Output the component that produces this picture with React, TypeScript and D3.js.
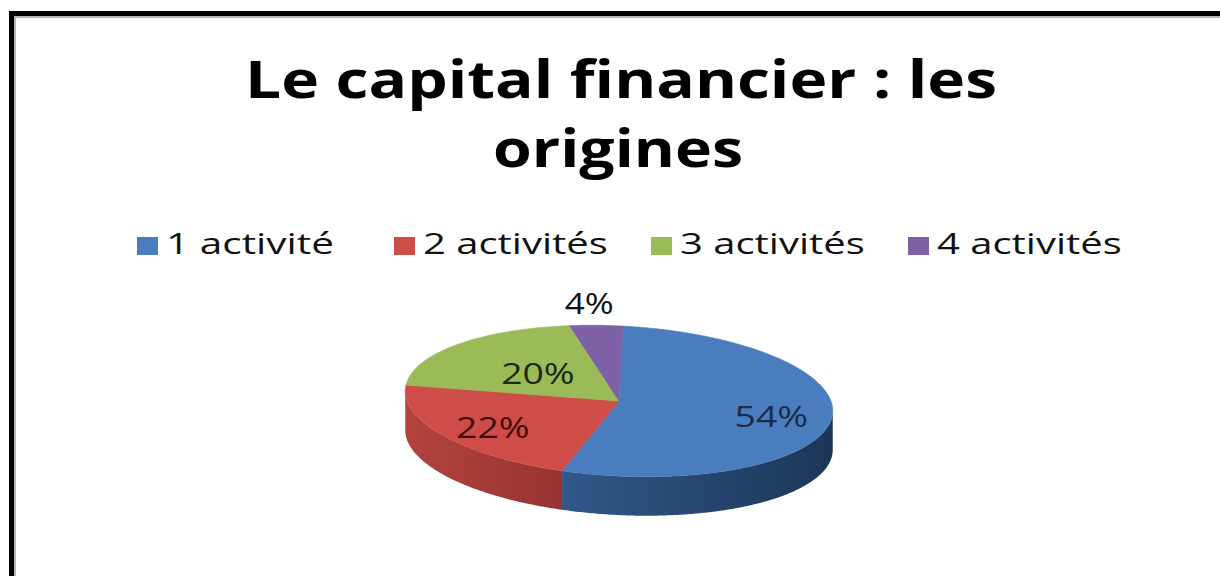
import * as d3 from "d3";

const categories = ["1 activité", "2 activités", "3 activités", "4 activités"];
const shares = [54, 22, 20, 4];
const shareLabels = ["54%", "22%", "20%", "4%"];
const titleLines = ["Le capital financier : les", "origines"];

const topColors = ["#4a7dbd", "#cf4d48", "#9bbb59", "#7e60a6"];
const sideColors = [
  ["#30588a", "#1d3557"],
  ["#b3433f", "#963431"],
  ["#7f9a48", "#637a36"],
  ["#654c86", "#4f3b6a"],
];
const labelColors = ["#1b2c4a", "#3d0e0e", "#1c2a0c", "#111111"];

const W = 1220;
const H = 576;
const CX = 619;
const CY = 401;
const RX = 214;
const RY = 75;
const DEPTH = 39;
const TILT = (3 * Math.PI) / 180;
// how far out along the slice's middle each percentage sits (1 = rim)
const LABEL_RADIUS = [0.72, 0.72, 0.5, 1.3];

const FONT = "'Open Sans', 'DejaVu Sans', sans-serif";

function project(theta: number, frac = 1, drop = 0): [number, number] {
  const dx = RX * frac * Math.sin(theta);
  const dy = -RY * frac * Math.cos(theta);
  return [
    CX + dx * Math.cos(TILT) - dy * Math.sin(TILT),
    CY + dx * Math.sin(TILT) + dy * Math.cos(TILT) + drop,
  ];
}

function rimPoints(a: number, b: number, drop = 0) {
  const n = Math.max(2, Math.ceil((b - a) / 0.01));
  return d3.range(n + 1).map((i) => project(a + ((b - a) * i) / n, 1, drop));
}

export default function App() {
  const pie = d3
    .pie<number>()
    .sort(null)
    .value((d) => d)(shares);

  const line = d3.line();

  // front half of the tilted ellipse, where the side wall shows
  const frontStart = Math.atan2(RX * Math.cos(TILT), RY * Math.sin(TILT));
  const frontEnd = frontStart + Math.PI;

  const legendX = d3
    .scaleBand<string>()
    .domain(categories)
    .range([137, 1165]);

  return (
    <svg
      width={W}
      height={H}
      style={{ position: "absolute", left: 0, top: 0, background: "#fff" }}
    >
      <defs>
        {sideColors.map((c, i) => (
          <linearGradient key={i} id={`side${i}`} x1="0" x2="1" y1="0" y2="0">
            <stop offset="0%" stopColor={c[0]} />
            <stop offset="100%" stopColor={c[1]} />
          </linearGradient>
        ))}
      </defs>

      {/* frame */}
      <rect x={9} y={11} width={5} height={H - 11} fill="#000" />
      <rect x={9} y={11} width={W - 9} height={5} fill="#000" />
      <rect x={14} y={16} width={2} height={H - 16} fill="#b5b5b5" />
      <rect x={14} y={16} width={W - 14} height={2} fill="#b5b5b5" />

      {/* title */}
      <text
        x={621}
        y={98}
        textAnchor="middle"
        fontFamily={FONT}
        fontWeight="bold"
        fontSize={52}
        textLength={752}
        lengthAdjust="spacingAndGlyphs"
        fill="#000"
      >
        {titleLines[0]}
      </text>
      <text
        x={618}
        y={167}
        textAnchor="middle"
        fontFamily={FONT}
        fontWeight="bold"
        fontSize={52}
        textLength={250}
        lengthAdjust="spacingAndGlyphs"
        fill="#000"
      >
        {titleLines[1]}
      </text>

      {/* legend */}
      {categories.map((c, i) => {
        const x = legendX(c) ?? 0;
        return (
          <g key={c}>
            <rect x={x} y={237} width={21} height={18} fill={topColors[i]} />
            <text
              x={x + 29}
              y={254}
              fontFamily={FONT}
              fontSize={29}
              textLength={c.length * 16.8}
              lengthAdjust="spacingAndGlyphs"
              fill="#111"
            >
              {c}
            </text>
          </g>
        );
      })}

      {/* side walls */}
      {pie.map((s, i) => {
        const a = Math.max(s.startAngle, frontStart);
        const b = Math.min(s.endAngle, frontEnd);
        if (b <= a) return null;
        const pts = [...rimPoints(a, b), ...rimPoints(a, b, DEPTH).reverse()];
        return (
          <path
            key={`side${i}`}
            d={line(pts) + "Z"}
            fill={`url(#side${i})`}
          />
        );
      })}

      {/* top faces */}
      {pie.map((s, i) => {
        const pts = [[CX, CY] as [number, number], ...rimPoints(s.startAngle, s.endAngle)];
        return (
          <path
            key={`top${i}`}
            d={line(pts) + "Z"}
            fill={topColors[i]}
            stroke={topColors[i]}
            strokeWidth={0.6}
          />
        );
      })}

      {/* percentages */}
      {pie.map((s, i) => {
        const mid = (s.startAngle + s.endAngle) / 2;
        const [x, y] = project(mid, LABEL_RADIUS[i]);
        const label = shareLabels[i];
        return (
          <text
            key={`lab${i}`}
            x={x}
            y={y}
            textAnchor="middle"
            dominantBaseline="central"
            fontFamily={FONT}
            fontSize={30}
            textLength={label.length * 24.5}
            lengthAdjust="spacingAndGlyphs"
            fill={labelColors[i]}
          >
            {label}
          </text>
        );
      })}
    </svg>
  );
}
